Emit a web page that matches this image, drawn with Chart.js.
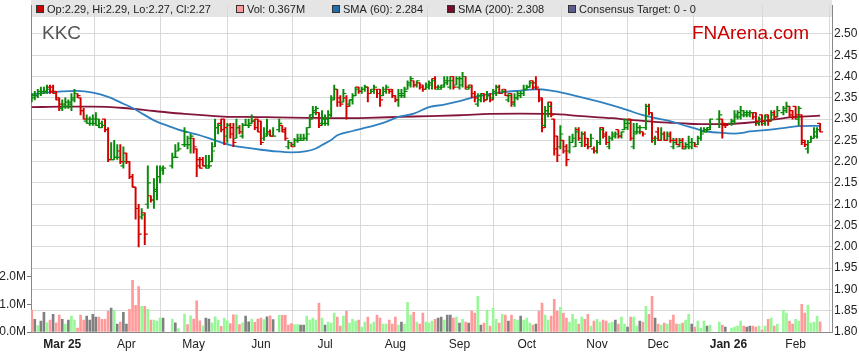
<!DOCTYPE html>
<html><head><meta charset="utf-8">
<style>html,body{margin:0;padding:0;background:#fff;}canvas{display:block;}</style>
<script src="https://cdn.jsdelivr.net/npm/chart.js@4.4.1/dist/chart.umd.min.js"></script>
</head><body>
<canvas id="c" width="859" height="363"></canvas>
<script>
// ---- DATA (one slot per weekday from 17 Feb 2025; null = exchange holiday) ----
const ticker = 'KKC';
const opens = [
2.345,2.35,2.355,2.36,2.36,2.365,2.375,2.375,2.36,2.345,
2.325,2.33,2.33,2.335,2.345,2.36,2.35,2.32,2.295,2.29,
2.29,2.29,2.285,2.28,2.30,2.275,2.205,2.205,2.21,2.225,
2.19,2.22,2.20,2.165,2.14,2.09,2.07,2.08,2.10,2.12,
2.11,2.13,2.165,2.18,null,null,2.19,2.21,2.225,null,
2.24,2.24,2.24,2.255,2.23,2.205,2.205,2.19,2.185,2.20,
2.235,2.28,2.29,2.30,2.26,2.285,2.28,2.255,2.28,2.26,
2.285,2.285,2.29,2.295,2.30,2.295,2.255,2.26,2.27,2.26,
null,2.275,2.285,2.275,2.235,2.245,2.24,2.25,2.25,2.25,
2.255,2.28,2.31,2.315,2.315,2.29,2.29,2.29,2.31,2.35,
2.37,2.35,2.34,2.35,2.335,2.345,2.355,2.375,2.365,2.37,
2.375,2.36,2.365,2.37,2.37,2.355,2.365,2.37,2.37,2.355,
2.345,2.355,2.355,2.37,2.38,2.39,2.38,2.385,2.38,2.37,
2.375,2.38,2.395,2.37,2.37,2.38,2.385,2.375,2.40,2.38,
2.375,2.38,2.40,2.37,2.38,2.36,2.335,2.345,2.36,2.345,
2.355,2.35,2.36,2.375,2.36,2.37,2.345,2.36,2.335,2.35,
2.355,2.36,2.37,2.375,2.39,2.385,2.37,2.35,2.285,2.32,
2.34,2.30,2.26,2.235,2.25,2.235,2.225,2.245,2.235,2.275,
2.245,2.265,2.255,2.235,2.23,2.225,2.245,2.28,2.265,2.235,
2.255,2.26,2.275,2.26,2.275,2.28,2.30,2.235,2.265,2.27,
2.27,2.28,2.33,2.315,2.25,2.27,2.25,2.265,2.25,2.265,
2.235,2.25,2.235,2.25,2.23,2.235,2.235,2.245,2.24,2.255,
2.27,2.27,2.28,null,null,2.30,2.30,2.29,null,2.29,
2.295,2.305,2.305,2.31,2.31,2.31,2.315,2.315,2.29,2.31,
2.29,2.31,2.295,2.315,2.305,null,2.315,2.32,2.33,2.32,
2.33,2.30,2.31,2.25,2.23,2.245,2.255,2.26,2.29];
const highs = [
2.36,2.365,2.37,2.375,2.375,2.38,2.38,2.38,2.365,2.35,
2.345,2.35,2.345,2.36,2.37,2.36,2.35,2.325,2.31,2.305,
2.31,2.315,2.30,2.295,2.30,2.28,2.245,2.25,2.24,2.24,
2.235,2.22,2.20,2.17,2.14,2.10,2.09,2.08,2.19,2.12,
2.16,2.19,2.19,2.19,null,null,2.22,2.24,2.245,null,
2.28,2.26,2.265,2.255,2.23,2.21,2.21,2.215,2.215,2.245,
2.30,2.29,2.30,2.30,2.29,2.29,2.29,2.30,2.285,2.29,
2.30,2.30,2.31,2.30,2.30,2.295,2.28,2.30,2.275,2.28,
null,2.30,2.285,2.28,2.25,2.245,2.255,2.265,2.265,2.265,
2.28,2.31,2.33,2.33,2.315,2.32,2.31,2.32,2.355,2.38,
2.37,2.355,2.37,2.355,2.345,2.36,2.375,2.375,2.375,2.38,
2.375,2.37,2.38,2.37,2.37,2.375,2.38,2.37,2.37,2.355,
2.37,2.37,2.375,2.39,2.40,2.39,2.39,2.385,2.38,2.385,
2.39,2.395,2.40,2.38,2.38,2.40,2.40,2.40,2.40,2.40,
2.40,2.41,2.40,2.38,2.38,2.365,2.36,2.36,2.36,2.365,
2.36,2.37,2.38,2.38,2.37,2.37,2.36,2.36,2.36,2.365,
2.365,2.38,2.38,2.39,2.39,2.40,2.37,2.35,2.33,2.34,
2.34,2.30,2.26,2.285,2.25,2.24,2.26,2.265,2.28,2.28,
2.27,2.27,2.255,2.265,2.235,2.25,2.28,2.28,2.27,2.26,
2.27,2.27,2.275,2.27,2.30,2.30,2.30,2.29,2.29,2.285,
2.27,2.335,2.335,2.315,2.26,2.28,2.28,2.27,2.27,2.27,
2.255,2.255,2.255,2.255,2.245,2.26,2.255,2.245,2.26,2.28,
2.28,2.28,2.30,null,null,2.32,2.30,2.29,null,2.30,
2.32,2.32,2.33,2.32,2.32,2.32,2.315,2.315,2.305,2.31,
2.31,2.31,2.32,2.32,2.33,null,2.33,2.34,2.33,2.32,
2.33,2.33,2.31,2.25,2.25,2.26,2.28,2.28,2.29];
const lows = [
2.34,2.345,2.35,2.355,2.36,2.36,2.36,2.36,2.345,2.32,
2.32,2.325,2.325,2.32,2.34,2.35,2.31,2.30,2.29,2.285,
2.285,2.285,2.28,2.28,2.27,2.20,2.205,2.205,2.205,2.195,
2.185,2.195,2.16,2.14,2.065,2.00,2.065,2.005,2.09,2.105,
2.09,2.11,2.15,2.17,null,null,2.185,2.21,2.225,null,
2.235,2.23,2.22,2.22,2.165,2.185,2.19,2.185,2.185,2.20,
2.235,2.265,2.27,2.24,2.245,2.255,2.235,2.255,2.265,2.255,
2.285,2.28,2.29,2.275,2.27,2.24,2.25,2.26,2.26,2.26,
null,2.27,2.27,2.25,2.23,2.235,2.235,2.245,2.25,2.25,
2.25,2.28,2.305,2.31,2.28,2.285,2.285,2.285,2.305,2.345,
2.33,2.33,2.34,2.30,2.33,2.335,2.355,2.36,2.36,2.365,
2.34,2.36,2.36,2.35,2.33,2.355,2.36,2.36,2.35,2.34,
2.33,2.35,2.35,2.37,2.375,2.375,2.375,2.37,2.365,2.37,
2.37,2.37,2.37,2.37,2.37,2.375,2.38,2.37,2.37,2.38,
2.37,2.375,2.37,2.37,2.35,2.34,2.33,2.34,2.34,2.345,
2.34,2.345,2.355,2.36,2.36,2.355,2.34,2.33,2.33,2.345,
2.35,2.355,2.37,2.375,2.37,2.37,2.34,2.27,2.28,2.305,
2.305,2.215,2.20,2.23,2.22,2.19,2.22,2.245,2.235,2.25,
2.235,2.235,2.23,2.235,2.22,2.22,2.24,2.255,2.24,2.23,
2.25,2.255,2.255,2.255,2.275,2.275,2.25,2.23,2.265,2.265,
2.26,2.275,2.31,2.245,2.24,2.25,2.25,2.25,2.25,2.245,
2.23,2.24,2.235,2.23,2.23,2.23,2.23,2.235,2.24,2.25,
2.27,2.27,2.275,null,null,2.28,2.255,2.28,null,2.285,
2.29,2.30,2.30,2.305,2.305,2.305,2.30,2.285,2.285,2.285,
2.285,2.285,2.295,2.30,2.305,null,2.31,2.315,2.305,2.30,
2.30,2.285,2.24,2.235,2.22,2.245,2.255,2.255,2.27];
const closes = [
2.355,2.355,2.365,2.365,2.365,2.37,2.365,2.365,2.35,2.335,
2.335,2.34,2.34,2.35,2.36,2.355,2.32,2.30,2.30,2.30,
2.30,2.30,2.29,2.285,2.275,2.205,2.205,2.21,2.21,2.20,
2.20,2.20,2.165,2.14,2.09,2.03,2.075,2.03,2.15,2.11,
2.135,2.165,2.185,2.185,null,null,2.21,2.21,2.23,null,
2.27,2.255,2.26,2.235,2.19,2.185,2.19,2.19,2.19,2.225,
2.28,2.285,2.275,2.28,2.285,2.265,2.245,2.28,2.27,2.285,
2.285,2.285,2.295,2.28,2.27,2.245,2.265,2.265,2.26,2.26,
null,2.29,2.27,2.255,2.245,2.235,2.25,2.255,2.255,2.255,
2.265,2.30,2.32,2.325,2.285,2.30,2.30,2.31,2.345,2.37,
2.34,2.335,2.36,2.33,2.345,2.355,2.37,2.365,2.37,2.375,
2.36,2.37,2.375,2.36,2.345,2.37,2.375,2.365,2.355,2.345,
2.36,2.36,2.365,2.385,2.395,2.38,2.39,2.375,2.37,2.38,
2.385,2.39,2.375,2.375,2.375,2.39,2.39,2.39,2.375,2.395,
2.395,2.40,2.375,2.375,2.36,2.35,2.355,2.355,2.345,2.355,
2.345,2.365,2.375,2.36,2.365,2.355,2.355,2.34,2.35,2.36,
2.36,2.37,2.375,2.385,2.375,2.375,2.345,2.28,2.32,2.33,
2.31,2.23,2.215,2.265,2.225,2.205,2.245,2.255,2.27,2.255,
2.265,2.24,2.235,2.255,2.225,2.245,2.275,2.26,2.245,2.255,
2.265,2.265,2.26,2.27,2.29,2.29,2.255,2.27,2.28,2.28,
2.265,2.33,2.315,2.255,2.255,2.25,2.265,2.25,2.26,2.25,
2.245,2.24,2.245,2.235,2.24,2.245,2.245,2.235,2.255,2.265,
2.275,2.275,2.30,null,null,2.31,2.285,2.285,null,2.295,
2.31,2.315,2.32,2.315,2.315,2.315,2.305,2.295,2.30,2.295,
2.305,2.295,2.31,2.305,2.32,null,2.325,2.33,2.31,2.305,
2.31,2.325,2.245,2.24,2.245,2.255,2.27,2.275,2.27];
const volumesM = [
.79,.46,.23,.39,.71,.33,.43,.64,.33,.61,
.46,.29,.43,.57,.43,.14,.61,.43,.57,.43,
.64,.54,.54,.46,.46,.75,.86,.79,.29,.36,
.71,.29,.82,1.86,.96,1.64,.93,.93,.82,.43,
.43,.39,.5,.5,null,null,.47,.33,.12,null,
.65,.27,.58,.47,1.12,.4,.22,.5,.47,.33,
.55,.43,.2,.5,.4,.3,.62,.62,.27,.33,
.57,.37,.47,.35,.47,.5,.45,.55,.58,.45,
null,.6,.6,.6,.25,.3,.27,.27,.25,.25,
.57,.43,.5,.43,1.04,.5,.25,.36,.32,.68,
.54,.21,.57,.75,.32,.46,.39,.43,.18,.36,
.54,.29,.36,.61,.5,.29,.29,.43,.29,.54,
.25,.36,.29,1.07,.61,.71,.36,.29,.68,.36,
.32,.39,.46,.5,.54,.43,.61,.61,.5,.54,
.32,.46,.36,.32,.75,.68,1.29,.25,.32,.79,
.21,.86,.46,.32,.64,.61,.39,.61,.46,.43,
.57,.43,.5,.32,.25,.29,.75,1.04,.61,.43,
.57,1.18,.75,.89,.68,.5,.36,.64,.46,.29,
.54,.46,.64,.21,.39,.46,.36,.43,.39,.32,
.36,.43,.29,.54,.29,.18,.54,.54,.21,.39,
.36,.93,.64,1.29,.5,.29,.25,.32,.29,.43,
.61,.29,.29,.32,.43,.64,.29,.18,.39,.14,
.39,.21,.25,null,null,.36,.25,.18,null,.14,
.18,.21,.39,.21,.18,.21,.21,.18,.21,.07,
.21,.46,.5,.21,.29,null,.79,.68,.39,.29,
.46,.39,1.0,.68,.96,.32,.36,.57,.367];
const priorClose = 2.365;
// moving averages at sample slots
const sma60Idx = [0,5,10,15,20,25,30,33,35,40,45,50,55,60,65,70,75,80,85,90,93,95,98,100,105,110,115,120,125,130,135,140,145,150,155,160,163,165,170,175,180,185,190,195,200,205,210,215,218,220,225,230,232,235,240,245,250,255,258];
const sma60Val = [2.358,2.362,2.365,2.366,2.362,2.352,2.336,2.326,2.318,2.297,2.283,2.271,2.262,2.25,2.239,2.233,2.228,2.224,2.222,2.225,2.231,2.239,2.251,2.262,2.272,2.281,2.291,2.305,2.313,2.328,2.334,2.342,2.352,2.359,2.364,2.367,2.369,2.37,2.367,2.36,2.351,2.342,2.332,2.321,2.309,2.301,2.293,2.282,2.276,2.272,2.268,2.266,2.267,2.271,2.274,2.278,2.283,2.284,2.284];
const sma200Idx = [0,10,20,30,40,50,60,66,70,80,90,100,110,120,130,140,150,160,170,180,190,196,200,205,210,215,220,225,230,235,240,245,250,258];
const sma200Val = [2.328,2.329,2.329,2.326,2.319,2.312,2.307,2.305,2.305,2.304,2.303,2.302,2.303,2.305,2.307,2.309,2.312,2.313,2.312,2.307,2.302,2.298,2.296,2.293,2.291,2.289,2.288,2.288,2.289,2.292,2.296,2.301,2.305,2.308];
const monthTickIdx = [10,31,53,75,96,119,140,162,185,205,228,250];
const monthLabels = ['Mar 25','Apr','May','Jun','Jul','Aug','Sep','Oct','Nov','Dec','Jan 26','Feb'];
const priceTicks = [1.80,1.85,1.90,1.95,2.00,2.05,2.10,2.15,2.20,2.25,2.30,2.35,2.40,2.45,2.50];
const volTicks = [0,1,2];
const consensusText = 'Consensus Target: 0 - 0';

// ---- STYLE ----
const FONT = "'Liberation Sans', Arial, sans-serif";
const UP = '#0a8a0a', DOWN = '#d40000';
const VUP = '#98f898', VDN = '#ff9a9a', VEQ = '#808080';
const BLUE = '#2f80c0', MAROON = '#84163c';

const hl = [], hlCol = [], op = [], cl = [], tkCol = [], vol = [], volCol = [];
let prev = priorClose;
for (let i = 0; i < opens.length; i++) {
  if (opens[i] == null) continue;
  const c = closes[i] >= opens[i] ? UP : DOWN;
  hl.push({x: i, y: [lows[i], highs[i]]}); hlCol.push(c);
  op.push({x: i - 0.5, y: opens[i]}); cl.push({x: i + 0.5, y: closes[i]}); tkCol.push(c);
  vol.push({x: i, y: volumesM[i]});
  volCol.push(closes[i] > prev ? VUP : closes[i] < prev ? VDN : VEQ);
  prev = closes[i];
}
const sma60 = sma60Idx.map((x, k) => ({x, y: sma60Val[k]}));
const sma200 = sma200Idx.map((x, k) => ({x, y: sma200Val[k]}));
const last = opens.length - 1;

const overlay = {
  id: 'overlay',
  beforeDraw(chart) {
    const ctx = chart.ctx, a = chart.chartArea;
    ctx.save();
    ctx.fillStyle = '#e5e5e5';
    ctx.fillRect(a.left, 0, a.right - a.left, 17);
    ctx.restore();
  },
  afterDraw(chart) {
    const ctx = chart.ctx;
    ctx.save();
    const items = [
      [36, '#cc0000', `Op:${opens[last].toFixed(2)}, Hi:${highs[last].toFixed(2)}, Lo:${lows[last].toFixed(2)}, Cl:${closes[last].toFixed(2)}`],
      [236, '#ff9a9a', `Vol: ${volumesM[last].toFixed(3)}M`],
      [332, '#1f6fae', `SMA (60): ${sma60Val[sma60Val.length-1].toFixed(3)}`],
      [447, '#7a0a2a', `SMA (200): ${sma200Val[sma200Val.length-1].toFixed(3)}`],
      [568, '#5c5c8e', consensusText]
    ];
    ctx.font = '11px ' + FONT;
    ctx.textBaseline = 'middle';
    for (const [x, col, txt] of items) {
      ctx.fillStyle = col;
      ctx.fillRect(x, 5, 8, 8);
      ctx.strokeStyle = '#333'; ctx.lineWidth = 1;
      ctx.strokeRect(x + 0.5, 5.5, 7, 7);
      ctx.fillStyle = '#222';
      ctx.fillText(txt, x + 11, 9.5);
    }
    ctx.textBaseline = 'alphabetic';
    ctx.font = '19px ' + FONT;
    ctx.fillStyle = '#555';
    ctx.fillText(ticker, 42, 39);
    ctx.fillStyle = '#cc0000';
    ctx.fillText('FNArena.com', 692, 39);
    ctx.restore();
  }
};

const noPad = (s) => { s.paddingTop = 0; s.paddingBottom = 0; s.paddingLeft = 0; s.paddingRight = 0; };

new Chart(document.getElementById('c'), {
  type: 'bar',
  data: {
    datasets: [
      {type: 'bar', data: vol, yAxisID: 'yV', backgroundColor: volCol, barThickness: 2, grouped: false, order: 6},
      {type: 'line', data: sma200, yAxisID: 'yP', borderColor: MAROON, borderWidth: 1.8, pointRadius: 0, tension: 0.4, cubicInterpolationMode: 'monotone', order: 5},
      {type: 'line', data: sma60, yAxisID: 'yP', borderColor: BLUE, borderWidth: 1.8, pointRadius: 0, tension: 0.4, cubicInterpolationMode: 'monotone', order: 4},
      {type: 'bar', data: hl, yAxisID: 'yP', backgroundColor: hlCol, barThickness: 1.3, grouped: false, order: 3},
      {type: 'line', data: op, yAxisID: 'yP', showLine: false, pointStyle: 'line', pointRadius: 1.5, pointBorderWidth: 1.2, pointBorderColor: tkCol, pointBackgroundColor: tkCol, order: 2},
      {type: 'line', data: cl, yAxisID: 'yP', showLine: false, pointStyle: 'line', pointRadius: 1.5, pointBorderWidth: 1.2, pointBorderColor: tkCol, pointBackgroundColor: tkCol, order: 1}
    ]
  },
  options: {
    responsive: false, animation: false, devicePixelRatio: 1, events: [],
    layout: {padding: {top: 2, left: 0, right: 0, bottom: 0}},
    plugins: {legend: {display: false}, tooltip: {enabled: false}},
    scales: {
      x: {
        type: 'linear', min: -0.23, max: 261.9, offset: false,
        grid: {color: '#d9d9d9', drawTicks: false},
        border: {color: '#888'},
        ticks: {
          padding: 5, color: '#222', autoSkip: false, maxRotation: 0,
          font: (ctx) => {
            const k = ctx.tick ? monthTickIdx.indexOf(ctx.tick.value) : -1;
            return {family: FONT, size: 12, weight: (k >= 0 && monthLabels[k].includes(' ')) ? 'bold' : 'normal'};
          },
          callback: (v) => { const k = monthTickIdx.indexOf(v); return k >= 0 ? monthLabels[k] : ''; }
        },
        afterBuildTicks: (s) => { s.ticks = monthTickIdx.map(v => ({value: v})); },
        afterFit: (s) => { s.height = 31; noPad(s); }
      },
      yP: {
        type: 'linear', position: 'right', min: 1.80, max: 2.5674,
        grid: {color: '#d9d9d9', drawTicks: false},
        border: {color: '#888'},
        ticks: {padding: 2, color: '#222', font: {family: FONT, size: 12}, callback: (v) => Number(v).toFixed(2)},
        afterBuildTicks: (s) => { s.ticks = priceTicks.map(v => ({value: v})); },
        afterFit: (s) => { s.width = 27; noPad(s); }
      },
      yV: {
        type: 'linear', position: 'left', min: 0, max: 330 / 28,
        grid: {drawOnChartArea: false, drawTicks: true, tickLength: 4, tickColor: '#777'},
        border: {color: '#888'},
        ticks: {padding: 1, color: '#222', font: {family: FONT, size: 12}, callback: (v) => Number(v).toFixed(1) + 'M'},
        afterBuildTicks: (s) => { s.ticks = volTicks.map(v => ({value: v})); },
        afterFit: (s) => { s.width = 31; noPad(s); }
      }
    }
  },
  plugins: [overlay]
});
</script>
</body></html>
